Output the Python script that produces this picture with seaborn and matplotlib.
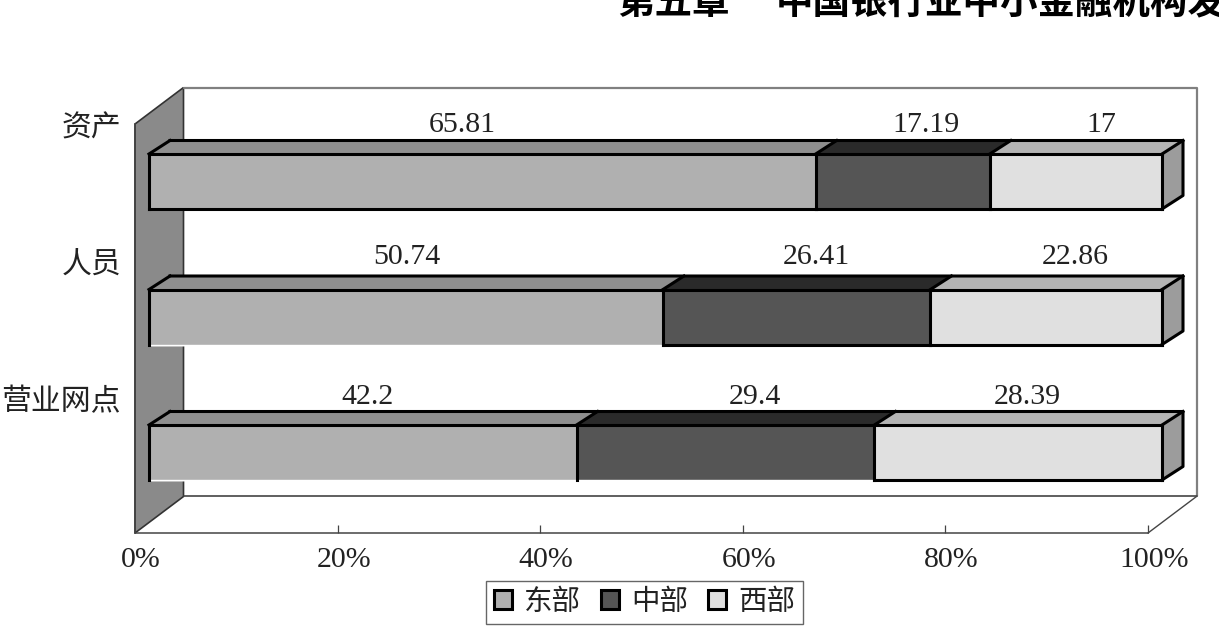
"""
Regional share of assets, staff and branches: 3D-look stacked bars.
"""

import matplotlib
matplotlib.use("Agg")

import pandas as pd
import matplotlib.pyplot as plt
import seaborn as sns
from matplotlib.patches import Patch, Polygon
from matplotlib.transforms import ScaledTranslation

categories = ["资产", "人员", "营业网点"]
regions = ["东部", "中部", "西部"]
east = [65.81, 50.74, 42.2]
middle = [17.19, 26.41, 29.4]
west = [17, 22.86, 28.39]
label_texts = [["65.81", "17.19", "17"], ["50.74", "26.41", "22.86"], ["42.2", "29.4", "28.39"]]
x_ticks = [0, 20, 40, 60, 80, 100]
x_tick_labels = ["0%", "20%", "40%", "60%", "80%", "100%"]
title_chapter = "第五章"
title_rest = "中国银行业中小金融机构发展"

FRONT = ["#b0b0b0", "#555555", "#e0e0e0"]
TOP = ["#8f8f8f", "#2a2a2a", "#b4b4b4"]
SIDE = "#9c9c9c"
WALL = "#8a8a8a"

W, H = 1219, 636
sns.set_theme(style="white")
plt.rcParams["font.family"] = ["Liberation Serif", "Noto Sans CJK SC"]
plt.rcParams["axes.unicode_minus"] = False


def add_axes_px(fig, left, right, top, bottom):
    return fig.add_axes([left / W, 1 - bottom / H, (right - left) / W, (bottom - top) / H])


fig = plt.figure(figsize=(W / 100, H / 100), dpi=100, facecolor="white")

# ---------------------------------------------------------
# Frame: floor, back wall, left wall and the axis ticks
# ---------------------------------------------------------
ax = add_axes_px(fig, 135, 1148, 124, 533)
ax.set_xlim(0, 100)
ax.set_ylim(3, 0)
ax.patch.set_visible(False)
sx, sy = 100 / (1148 - 135), 3 / (533 - 124)
wall_dx, wall_dy = 48.5 * sx, 36.5 * sy

ax.add_patch(Polygon([(0, 0), (wall_dx, -wall_dy), (wall_dx, 3 - wall_dy), (0, 3)],
                     facecolor=WALL, edgecolor="#333333", lw=1.2, clip_on=False))
ax.plot([wall_dx, 100 + wall_dx, 100 + wall_dx], [-wall_dy, -wall_dy, 3 - wall_dy],
        color="#808080", lw=1.6, clip_on=False)
ax.plot([wall_dx, 100 + wall_dx], [3 - wall_dy, 3 - wall_dy], color="#444444", lw=1.2, clip_on=False)
ax.plot([100, 100 + wall_dx], [3, 3 - wall_dy], color="#444444", lw=1.0, clip_on=False)

sns.despine(ax=ax, top=True, right=True)
for side in ["left", "bottom"]:
    ax.spines[side].set_color("#444444")
    ax.spines[side].set_linewidth(1.1)
ax.set_xticks(x_ticks, x_tick_labels, fontsize=21.5)
ax.set_yticks(range(len(categories)), categories, fontsize=21.5)
ax.tick_params(axis="x", direction="in", length=6, width=0.9, color="#444444", pad=10,
               bottom=True, labelcolor="#222222")
ax.tick_params(axis="y", direction="in", length=7, width=0.9, color="#444444", pad=10,
               left=True, labelcolor="#222222")
shift = ScaledTranslation(6 / 100, 0, fig.dpi_scale_trans)
for lab in ax.get_xticklabels():
    lab.set_transform(lab.get_transform() + shift)
shift_y = ScaledTranslation(0, -2 / 100, fig.dpi_scale_trans)
for lab in ax.get_yticklabels():
    lab.set_transform(lab.get_transform() + shift_y)

# ---------------------------------------------------------
# Bars: cumulative values, widest first, so they stack
# ---------------------------------------------------------
ax_bar = add_axes_px(fig, 149, 1162, 113.75, 520.25)
ax_bar.patch.set_visible(False)

rows = []
shares = []
for i, cat in enumerate(categories):
    vals = [east[i], middle[i], west[i]]
    share = [v / sum(vals) * 100 for v in vals]
    shares.append(share)
    total = 0
    for region, s in zip(regions, share):
        total += s
        rows.append({"category": cat, "region": region, "cum": total})
df = pd.DataFrame(rows)

BAR_W = 55 / 135.5
sns.barplot(data=df, y="category", x="cum", hue="region", hue_order=regions[::-1],
            palette=dict(zip(regions, FRONT)), dodge=False, saturation=1, width=BAR_W,
            order=categories, legend=False, ax=ax_bar)
ax_bar.set_xlim(0, 100)
ax_bar.set_ylim(2.5, -0.5)
ax_bar.axis("off")

dx, dy = 21 * 100 / 1013, 13.5 / 135.5
OUTLINE = dict(color="black", lw=2.2, solid_capstyle="projecting", clip_on=False, zorder=6)

# which front-bottom edges the print actually shows, per row and segment
bottom_edges = [[True, True, True], [False, True, True], [False, False, True]]
# hand-placed data labels in the source: x nudge from segment centre, y above back edge (px)
label_dx = [[-20, 23, 25], [1, 20, 29], [5, 29, 9]]
label_dy = [16, 19, 15]

for i, share in enumerate(shares):
    y_top, y_bot = i - BAR_W / 2, i + BAR_W / 2
    left = 0
    for j, s in enumerate(share):
        right = left + s
        ax_bar.add_patch(Polygon([(left, y_top), (left + dx, y_top - dy),
                                  (right + dx, y_top - dy), (right, y_top)],
                                 facecolor=TOP[j], edgecolor="none", clip_on=False, zorder=4))
        if bottom_edges[i][j]:
            ax_bar.plot([left, right], [y_bot, y_bot], **OUTLINE)
        ax_bar.plot([right, right + dx], [y_top, y_top - dy], **OUTLINE)
        ax_bar.plot([right, right], [y_top, y_bot], **OUTLINE)
        ax_bar.annotate(label_texts[i][j], xy=((left + right) / 2, y_top - dy),
                        xytext=(label_dx[i][j] * 0.72, label_dy[i] * 0.72),
                        textcoords="offset points", ha="center", va="center",
                        fontsize=21.5, color="#222222", annotation_clip=False)
        left = right
    ax_bar.add_patch(Polygon([(100, y_top), (100 + dx, y_top - dy), (100 + dx, y_bot - dy), (100, y_bot)],
                             facecolor=SIDE, edgecolor="none", clip_on=False, zorder=4))
    ax_bar.plot([0, 100], [y_top, y_top], **OUTLINE)
    ax_bar.plot([0, dx], [y_top, y_top - dy], **OUTLINE)
    ax_bar.plot([dx, 100 + dx, 100 + dx, 100], [y_top - dy, y_top - dy, y_bot - dy, y_bot], **OUTLINE)
    ax_bar.plot([0, 0], [y_top, y_bot], **OUTLINE)

# ---------------------------------------------------------
# Legend and cropped running head
# ---------------------------------------------------------
handles = [Patch(facecolor=c, edgecolor="black", lw=2.2, label=r) for c, r in zip(FRONT, regions)]
fig.legend(handles=handles, loc="center", bbox_to_anchor=(644.5 / W, 1 - 602.5 / H), ncol=3,
           fontsize=20.5, frameon=True, fancybox=False, edgecolor="#666666", framealpha=1,
           handlelength=0.65, handleheight=0.65, handletextpad=0.42, columnspacing=0.68,
           borderpad=0.28, borderaxespad=0, labelcolor="#222222")

fig.text(618 / W, 1 - 14 / H, title_chapter, fontsize=27, fontweight="bold", color="black",
         family=["Noto Sans CJK SC"], ha="left", va="baseline")
fig.text(776 / W, 1 - 14 / H, title_rest, fontsize=27, fontweight="bold", color="black",
         family=["Noto Sans CJK SC"], ha="left", va="baseline")

fig.savefig("out.png", dpi=100)
